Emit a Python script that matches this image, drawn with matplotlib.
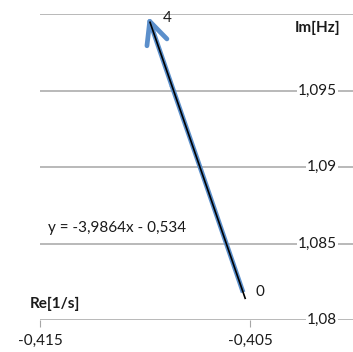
import numpy as np
import matplotlib.pyplot as plt

plt.rcParams['font.family'] = ['Lato', 'DejaVu Sans']

# trajectory of the pole, steps 0..4
re = [-0.40533, -0.40646, -0.40759, -0.40873, -0.40986]
im = [1.08181, 1.08632, 1.09083, 1.09534, 1.09986]
step_labels = ['0', '4']

x_ticks = [-0.415, -0.405]
x_tick_labels = ['-0,415', '-0,405']
y_ticks = [1.08, 1.085, 1.09, 1.095, 1.1]
y_tick_labels = ['1,08', '1,085', '1,09', '1,095', '']

blue = '#5B8FCB'
grid_c = '#A6A6A6'
txt_c = '#1a1a1a'
fs = 11

fig = plt.figure(figsize=(3.53, 3.52), dpi=100)
ax = fig.add_axes([40 / 353, 1 - 320 / 352, 315 / 353, 306 / 352])
ax.set_xlim(-0.415, -0.400)
ax.set_ylim(1.08, 1.1)
ax.set_axisbelow(True)

for s in ax.spines.values():
    s.set_visible(False)

ax.set_yticks(y_ticks)
ax.set_yticklabels(y_tick_labels)
ax.yaxis.tick_right()
ax.tick_params(axis='y', length=0, pad=-13, labelsize=fs, labelcolor=txt_c)
for lbl in ax.get_yticklabels():
    lbl.set_horizontalalignment('right')
    lbl.set_verticalalignment('center')
    lbl.set_bbox(dict(facecolor='white', edgecolor='none', pad=0.5))
ax.yaxis.grid(True, color=grid_c, lw=1.1)

ax.set_xticks(x_ticks)
ax.set_xticklabels(x_tick_labels)
ax.tick_params(axis='x', direction='out', length=5, color=grid_c, pad=5,
               labelsize=fs, labelcolor=txt_c)

# series with open arrow at the last point
ax.plot(re[:-1], im[:-1], color=blue, lw=3.4, solid_capstyle='butt', zorder=2)
ax.annotate('', xy=(re[-1], im[-1]), xytext=(re[-2], im[-2]), zorder=2,
            arrowprops=dict(arrowstyle='->,head_length=0.8,head_width=0.38',
                            mutation_scale=20, color=blue, lw=3.4,
                            shrinkA=0, shrinkB=0))

# linear trend, drawn over the series
k, b = np.polyfit(re, im, 1)
xs = np.array([min(re), max(re)]) + 0.0001
ax.plot(xs, k * xs + b, color='black', lw=1.2, zorder=5)

ax.annotate(step_labels[0], (re[0], im[0]), xytext=(9, 0), textcoords='offset points',
            fontsize=fs, ha='left', va='center', color=txt_c)
ax.annotate(step_labels[1], (re[-1], im[-1]), xytext=(11, -1), textcoords='offset points',
            fontsize=fs, ha='left', va='center', color=txt_c)

fig.text(48 / 353, 1 - 228 / 352, 'y = -3,9864x - 0,534', fontsize=fs,
         ha='left', va='center', color=txt_c)

fig.text(295 / 353, 1 - 28 / 352, 'Im[Hz]', fontsize=fs, fontweight='bold',
         ha='left', va='center', color=txt_c,
         bbox=dict(facecolor='white', edgecolor='none', pad=1))
fig.text(30 / 353, 1 - 304 / 352, 'Re[1/s]', fontsize=fs, fontweight='bold',
         ha='left', va='center', color=txt_c)

fig.savefig('out.png', dpi=100)
